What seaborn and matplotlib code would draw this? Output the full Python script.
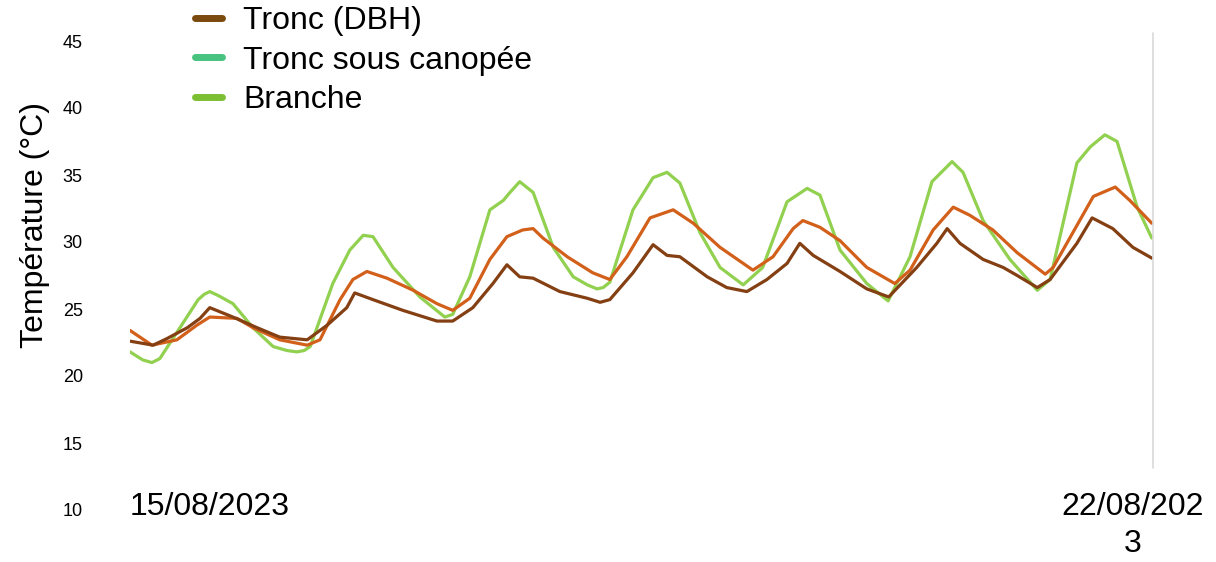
import pandas as pd
import matplotlib.pyplot as plt
import seaborn as sns
from matplotlib.lines import Line2D

# hours since 15/08/2023 00:00 (°C)
branche_h = [0.0, 2.1, 3.6, 4.9, 11.2, 12.2, 13.1, 14.5, 16.9, 20.2, 23.5, 25.8, 27.4, 28.6,
             29.6, 33.3, 36.1, 38.3, 39.9, 43.2, 47.6, 51.7, 53.0, 55.8, 59.1, 61.3, 62.4,
             64.0, 66.2, 69.5, 72.8, 75.1, 76.7, 77.7, 78.8, 82.6, 85.9, 88.2, 90.3, 93.6,
             96.9, 100.7, 103.9, 107.9, 111.2, 113.3, 116.6, 121.0, 124.5, 128.1, 131.7,
             135.0, 136.8, 140.1, 144.5, 149.0, 151.1, 155.5, 157.7, 160.1, 162.1, 165.4,
             167.8]
branche_t = [21.8, 21.2, 21.0, 21.3, 25.7, 26.1, 26.3, 26.0, 25.4, 23.6, 22.2, 21.9, 21.8, 21.9,
             22.2, 26.9, 29.4, 30.5, 30.4, 28.1, 25.9, 24.4, 24.6, 27.4, 32.4, 33.1, 33.7,
             34.5, 33.7, 29.6, 27.4, 26.8, 26.5, 26.6, 27.0, 32.4, 34.8, 35.2, 34.4, 30.7,
             28.1, 26.8, 28.1, 33.0, 34.0, 33.5, 29.4, 26.9, 25.6, 28.9, 34.5,
             36.0, 35.2, 31.6, 28.7, 26.4, 27.2, 35.9, 37.1, 38.0, 37.5, 32.6,
             30.3]

canopee_h = [0.0, 3.6, 7.7, 11.0, 13.1, 17.6, 20.2, 24.6, 29.1, 31.2, 34.5, 36.6, 38.9,
             42.2, 46.5, 50.4, 53.0, 55.8, 59.1, 61.9, 64.5, 66.2, 67.8, 71.8, 76.0, 78.8,
             81.6, 85.4, 89.2, 92.5, 96.9, 102.3, 105.6, 108.9, 110.5, 113.3, 116.6, 121.0,
             125.6, 128.1, 131.9, 135.2, 137.9, 141.7, 145.7, 150.3, 151.6, 158.2, 161.8,
             164.2, 167.8]
canopee_t = [23.4, 22.3, 22.7, 23.8, 24.4, 24.3, 23.6, 22.7, 22.3, 22.7, 25.7, 27.2, 27.8,
             27.3, 26.4, 25.4, 24.9, 25.8, 28.7, 30.4, 30.9, 31.0, 30.3, 28.9, 27.7, 27.2,
             28.9, 31.8, 32.4, 31.4, 29.6, 27.9, 28.9, 31.0, 31.6, 31.1, 30.1, 28.1,
             26.9, 27.9, 30.9, 32.6, 32.0, 30.9, 29.2, 27.6, 28.1, 33.4, 34.1,
             33.1, 31.4]

dbh_h = [0.0, 3.8, 6.1, 9.4, 11.5, 13.1, 16.9, 20.9, 24.6, 29.1, 32.4, 35.6, 36.9, 39.9,
         44.8, 50.4, 53.0, 56.3, 59.6, 61.9, 64.0, 66.2, 70.6, 75.1, 77.2, 78.8, 82.6, 85.9,
         88.2, 90.3, 94.8, 98.0, 101.3, 104.6, 107.9, 110.0, 112.2, 116.6, 121.0, 124.6,
         129.2, 132.5, 134.2, 136.3, 140.1, 143.4, 145.7, 149.0, 151.1, 155.5, 158.0, 161.4,
         164.7, 167.8]
dbh_t = [22.6, 22.3, 22.8, 23.6, 24.3, 25.1, 24.4, 23.6, 22.9, 22.7, 23.8, 25.1, 26.2, 25.7,
         24.9, 24.1, 24.1, 25.1, 26.9, 28.3, 27.4, 27.3, 26.3, 25.8, 25.5, 25.7, 27.7, 29.8,
         29.0, 28.9, 27.4, 26.6, 26.3, 27.2, 28.4, 29.9, 29.0, 27.8, 26.5, 25.9,
         28.1, 29.9, 31.0, 29.9, 28.7, 28.1, 27.5, 26.6, 27.2, 29.9, 31.8, 31.0,
         29.6, 28.8]

series_names = ["Tronc (DBH)", "Tronc sous canopée", "Branche"]
line_colors = ["#843f13", "#d2601a", "#92d050"]
legend_colors = ["#7a4a0e", "#48c27f", "#7cbf33"]
y_ticks = [10, 15, 20, 25, 30, 35, 40, 45]
x_labels = ["15/08/2023", "22/08/202\n3"]

df = pd.concat([
    pd.DataFrame({"heure": dbh_h, "temp": dbh_t, "serie": series_names[0]}),
    pd.DataFrame({"heure": canopee_h, "temp": canopee_t, "serie": series_names[1]}),
    pd.DataFrame({"heure": branche_h, "temp": branche_t, "serie": series_names[2]}),
])

sns.set_style("white")
plt.rcParams["font.family"] = ["Liberation Sans", "DejaVu Sans"]
plt.rcParams["text.color"] = "black"
plt.rcParams["xtick.color"] = "black"
plt.rcParams["ytick.color"] = "black"
plt.rcParams["axes.labelcolor"] = "black"

fig = plt.figure(figsize=(12.16, 5.62), dpi=100)
ax = fig.add_axes([130 / 1216, 1 - 510 / 562, 1023 / 1216, 469 / 562])

# branche first so the trunk lines sit on top
for name, col in zip(series_names[::-1], line_colors[::-1]):
    sns.lineplot(data=df[df["serie"] == name], x="heure", y="temp", color=col,
                 linewidth=2.3, ax=ax, legend=False)

ax.set_xlim(0, 168)
ax.set_ylim(10, 45)
ax.set_yticks(y_ticks)
ax.set_yticklabels([str(v) for v in y_ticks], fontsize=13)
ax.tick_params(axis="y", length=0, pad=34)
ax.set_xticks([0, 164.7])
ax.set_xticklabels(x_labels, fontsize=23, linespacing=1.3)
ax.tick_params(axis="x", length=0, pad=-13)
xl = ax.get_xticklabels()
xl[0].set_ha("left")
xl[1].set_ha("center")
for t in xl:
    t.set_va("top")
ax.set_xlabel("")
ax.set_ylabel("Température (°C)", fontsize=23)
ax.yaxis.set_label_coords((50 - 130) / 1023, (510 - 225) / 469)
sns.despine(ax=ax, left=True, bottom=True)

ax.axvline(168, ymin=(510 - 468) / 469, ymax=(510 - 33) / 469, color="#d9d9d9",
           linewidth=1.2, clip_on=False)

handles = [Line2D([0], [0], color=c, linewidth=5, solid_capstyle="round") for c in legend_colors]
fig.legend(handles, series_names, loc="upper left", bbox_to_anchor=(195 / 1216, 1 - 6 / 562),
           frameon=False, fontsize=23, handlelength=0.85, handletextpad=0.65,
           labelspacing=0.3, borderpad=0, borderaxespad=0)

fig.savefig("out.png", dpi=100)
